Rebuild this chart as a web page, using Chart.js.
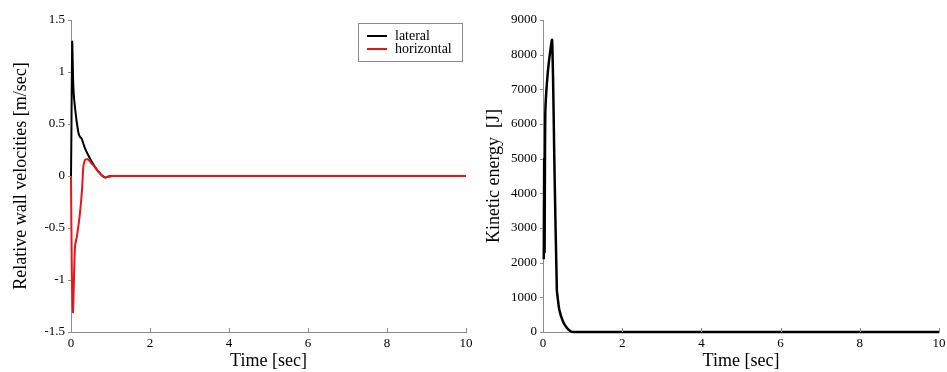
<!DOCTYPE html>
<html>
<head>
<meta charset="utf-8">
<title>Wall velocities and kinetic energy</title>
<script src="https://cdn.jsdelivr.net/npm/chart.js@4.4.1/dist/chart.umd.min.js"></script>
<style>
  html, body { margin: 0; padding: 0; background: #fff; }
  #wrap { position: relative; width: 947px; height: 372px; }
  .panel { position: absolute; top: 0; width: 473px; height: 372px; }
</style>
</head>
<body>
<div id="wrap">
  <div class="panel" style="left:0"><canvas id="velocity-canvas"></canvas></div>
  <div class="panel" style="left:473px"><canvas id="energy-canvas"></canvas></div>
</div>
<script>
// tick values
var timeTicks = [0, 2, 4, 6, 8, 10];
var velocityTicks = [-1.5, -1, -0.5, 0, 0.5, 1, 1.5];
var energyTicks = [0, 1000, 2000, 3000, 4000, 5000, 6000, 7000, 8000, 9000];

// lateral wall velocity [m/sec]
var lateralTime = [0, 0.01, 0.03, 0.06, 0.1, 0.18, 0.22, 0.27, 0.35, 0.45, 0.6, 0.7, 0.8, 0.87, 0.95, 1.05, 10];
var lateralVel = [0, 0.4, 1.29, 0.85, 0.66, 0.43, 0.38, 0.36, 0.27, 0.19, 0.09, 0.04, 0.0, -0.015, -0.005, 0, 0];

// horizontal wall velocity [m/sec]
var horizontalTime = [0, 0.02, 0.05, 0.1, 0.15, 0.22, 0.28, 0.31, 0.35, 0.4, 0.45, 0.5, 0.6, 0.7, 0.8, 0.87, 0.95, 1.05, 10];
var horizontalVel = [0, -0.9, -1.31, -0.68, -0.58, -0.38, -0.13, 0.08, 0.15, 0.16, 0.155, 0.13, 0.09, 0.04, 0.0, -0.015, -0.005, 0, 0];

// kinetic energy [J]
var energyTime = [0.02, 0.03, 0.04, 0.05, 0.06, 0.1, 0.15, 0.23, 0.29, 0.35, 0.37, 0.41, 0.5, 0.6, 0.7, 0.77, 10];
var energyVal = [2100, 5000, 2300, 5100, 6400, 7200, 7800, 8420, 4700, 1200, 1000, 650, 320, 120, 20, 0, 0];

var serif = "'Liberation Serif', 'Times New Roman', serif";
var axisGrey = "#8c8c8c";

function toPoints(xs, ys) {
  return xs.map(function (x, i) { return { x: x, y: ys[i] }; });
}

// short tick marks: x ticks point up into the plot, y ticks stick out left
var axisTicks = {
  id: "axisTicks",
  afterDatasetsDraw: function (chart) {
    var ctx = chart.ctx, area = chart.chartArea;
    var xs = chart.scales.x, ys = chart.scales.y;
    ctx.save();
    ctx.strokeStyle = axisGrey;
    ctx.lineWidth = 1;
    ctx.beginPath();
    xs.ticks.forEach(function (t) {
      var px = Math.round(xs.getPixelForValue(t.value)) + 0.5;
      ctx.moveTo(px, area.bottom);
      ctx.lineTo(px, area.bottom - 4);
    });
    ys.ticks.forEach(function (t) {
      var py = Math.round(ys.getPixelForValue(t.value)) + 0.5;
      ctx.moveTo(area.left, py);
      ctx.lineTo(area.left - 3, py);
    });
    ctx.stroke();
    ctx.restore();
  }
};

// boxed legend in the top right corner of the plot
var boxLegend = {
  id: "boxLegend",
  afterDraw: function (chart) {
    var ctx = chart.ctx, area = chart.chartArea;
    var w = 104, h = 38;
    var x0 = area.right - 4 - w, y0 = area.top + 3;
    ctx.save();
    ctx.fillStyle = "#fff";
    ctx.fillRect(x0, y0, w, h);
    ctx.strokeStyle = axisGrey;
    ctx.lineWidth = 1;
    ctx.strokeRect(x0 + 0.5, y0 + 0.5, w, h);
    ctx.font = "14px " + serif;
    ctx.textBaseline = "middle";
    chart.data.datasets.forEach(function (ds, i) {
      var y = y0 + 13 + i * 13;
      ctx.strokeStyle = ds.borderColor;
      ctx.lineWidth = 2;
      ctx.beginPath();
      ctx.moveTo(x0 + 9, y);
      ctx.lineTo(x0 + 29, y);
      ctx.stroke();
      ctx.fillStyle = "#000";
      ctx.fillText(ds.label, x0 + 37, y);
    });
    ctx.restore();
  }
};

function axisOptions(ticks, min, max, title, fitWidth) {
  return {
    type: "linear",
    min: min,
    max: max,
    afterBuildTicks: function (axis) {
      axis.ticks = ticks.map(function (v) { return { value: v }; });
    },
    afterFit: function (scale) {
      if (fitWidth) {
        scale.width = fitWidth;
      } else {
        scale.height = 40;
        scale.paddingLeft = 0;
        scale.paddingRight = 0;
      }
    },
    grid: { display: false, drawTicks: false },
    border: { display: true, color: axisGrey, width: 1 },
    ticks: {
      color: "#000",
      padding: fitWidth ? 6 : 4,
      font: { family: serif, size: 13 },
      callback: function (v) { return String(v); }
    },
    title: {
      display: true,
      text: title,
      color: "#000",
      font: { family: serif, size: 18 },
      padding: fitWidth ? { top: 10, bottom: 0 } : { top: 0, bottom: 0 }
    }
  };
}

Chart.defaults.animation = false;

new Chart(document.getElementById("velocity-canvas"), {
  type: "line",
  data: {
    datasets: [
      {
        label: "lateral",
        data: toPoints(lateralTime, lateralVel),
        borderColor: "#000000",
        borderWidth: 2,
        pointRadius: 0,
        tension: 0.2,
        clip: false,
        order: 1
      },
      {
        label: "horizontal",
        data: toPoints(horizontalTime, horizontalVel),
        borderColor: "#e8141c",
        borderWidth: 2,
        pointRadius: 0,
        tension: 0.2,
        clip: false,
        order: 0
      }
    ]
  },
  options: {
    responsive: true,
    maintainAspectRatio: false,
    layout: { padding: { top: 20, right: 7, left: 0, bottom: 0 } },
    plugins: { legend: { display: false }, tooltip: { enabled: false } },
    scales: {
      x: axisOptions(timeTicks, 0, 10, "Time [sec]"),
      y: axisOptions(velocityTicks, -1.5, 1.5, "Relative wall velocities [m/sec]", 71)
    }
  },
  plugins: [axisTicks, boxLegend]
});

new Chart(document.getElementById("energy-canvas"), {
  type: "line",
  data: {
    datasets: [
      {
        label: "Kinetic energy",
        data: toPoints(energyTime, energyVal),
        borderColor: "#000000",
        borderWidth: 2.5,
        pointRadius: 0,
        tension: 0.2,
        clip: false
      }
    ]
  },
  options: {
    responsive: true,
    maintainAspectRatio: false,
    layout: { padding: { top: 20, right: 7, left: 0, bottom: 0 } },
    plugins: { legend: { display: false }, tooltip: { enabled: false } },
    scales: {
      x: axisOptions(timeTicks, 0, 10, "Time [sec]"),
      y: axisOptions(energyTicks, 0, 9000, "Kinetic energy  [J]", 70)
    }
  },
  plugins: [axisTicks]
});
</script>
</body>
</html>
